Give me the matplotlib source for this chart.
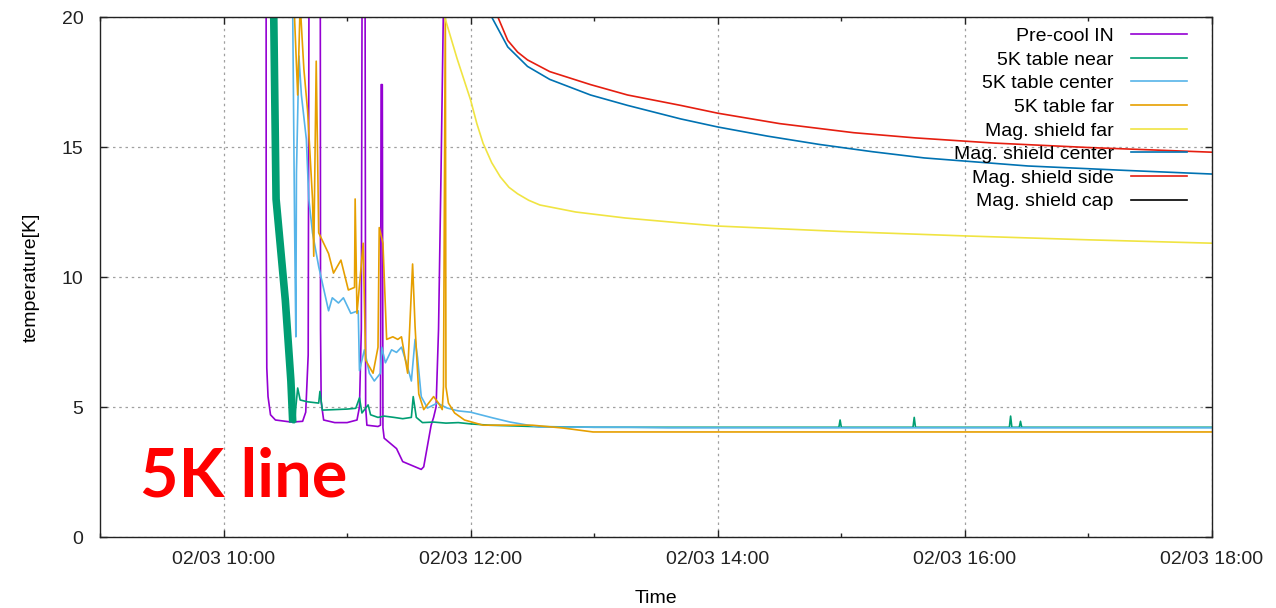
import numpy as np
import pandas as pd
import matplotlib
matplotlib.use("Agg")
import matplotlib.pyplot as plt
import matplotlib.dates as mdates

plt.rcParams['font.family'] = ['Liberation Sans', 'DejaVu Sans']

# === time axis: hours after 02/03 00:00 ===
day0 = pd.Timestamp("2019-02-03")

# === Pre-cool IN ===
h_precool = [10.30, 10.343, 10.345, 10.35, 10.36, 10.38, 10.42, 10.55, 10.64, 10.665, 10.685, 10.70,
             10.78, 10.785, 10.79, 10.81, 10.90, 11.00, 11.08, 11.10, 11.115, 11.13, 11.14, 11.15,
             11.16, 11.25, 11.27, 11.275, 11.285, 11.29, 11.30, 11.35, 11.40, 11.43, 11.45, 11.50,
             11.55, 11.60, 11.62, 11.65, 11.68, 11.70, 11.72, 11.74, 11.76, 11.78, 11.80, 18.0]
T_precool = [60, 60, 12, 6.5, 5.4, 4.7, 4.5, 4.42, 4.45, 4.8, 7, 40,
             40, 8, 5.2, 4.5, 4.4, 4.4, 4.5, 5, 8, 40, 40, 5,
             4.3, 4.25, 4.3, 17.4, 17.4, 4.2, 3.8, 3.6, 3.4, 3.1, 2.9, 2.8,
             2.7, 2.6, 2.7, 3.5, 4.3, 4.6, 5, 8, 14, 20.5, 40, 40]

# === 5K table near ===
h_near = [10.30, 10.395, 10.405, 10.425, 10.50, 10.545, 10.56, 10.575, 10.585, 10.60, 10.62, 10.68,
          10.77, 10.78, 10.80, 10.90, 11.00, 11.07, 11.10, 11.12, 11.17, 11.19, 11.25, 11.30,
          11.38, 11.45, 11.52, 11.535, 11.56, 11.61, 11.70, 11.80, 11.90, 12.00, 12.15, 12.30,
          12.50, 13.00, 14.00, 14.98, 14.99, 15.00, 15.58, 15.59, 15.60, 16.36, 16.37, 16.38,
          16.44, 16.45, 16.46, 18.0]
T_near = [40, 40, 20.5, 13, 9.1, 6.0, 4.4, 4.4, 5.0, 5.73, 5.27, 5.2,
          5.15, 5.6, 4.88, 4.9, 4.92, 4.95, 5.35, 4.77, 5.08, 4.7, 4.6, 4.65,
          4.6, 4.55, 4.6, 5.4, 4.6, 4.4, 4.42, 4.38, 4.4, 4.35, 4.3, 4.28,
          4.25, 4.22, 4.22, 4.22, 4.5, 4.22, 4.22, 4.6, 4.22, 4.22, 4.65, 4.22,
          4.22, 4.45, 4.22, 4.22]
near_fast_end = 10.57  # noisy fast-cooling part drawn as a thick band

# === 5K table center ===
h_center = [10.30, 10.55, 10.56, 10.575, 10.585, 10.59, 10.61, 10.63, 10.67, 10.69, 10.72, 10.77,
            10.85, 10.88, 10.93, 10.97, 11.03, 11.09, 11.10, 11.14, 11.18, 11.22, 11.27, 11.28,
            11.31, 11.36, 11.40, 11.44, 11.48, 11.52, 11.55, 11.57, 11.60, 11.65, 11.73, 11.81,
            11.90, 12.00, 12.18, 12.32, 12.55, 13.30, 13.60, 18.0]
T_center = [40, 40, 20, 12, 7.7, 14, 18.5, 17, 15.3, 13, 11.7, 10.4,
            8.7, 9.2, 9.0, 9.2, 8.6, 8.7, 6.4, 7.2, 6.3, 6.0, 6.3, 7.3,
            6.7, 7.2, 7.1, 7.3, 6.7, 6.0, 7.6, 6.9, 5.4, 4.96, 5.15, 4.96,
            4.85, 4.8, 4.58, 4.42, 4.23, 4.22, 4.2, 4.2]

# === 5K table far ===
h_far = [10.30, 10.56, 10.57, 10.60, 10.62, 10.65, 10.68, 10.72, 10.73, 10.75, 10.77, 10.85,
         10.89, 10.95, 11.01, 11.06, 11.065, 11.08, 11.13, 11.15, 11.21, 11.25, 11.26, 11.29,
         11.32, 11.37, 11.41, 11.44, 11.49, 11.53, 11.55, 11.58, 11.62, 11.70, 11.74, 11.77,
         11.78, 11.795, 11.80, 11.82, 11.87, 11.95, 12.10, 12.50, 12.75, 12.99, 18.0]
T_far = [40, 40, 20.5, 17, 20.5, 18, 16.4, 13, 10.8, 18.3, 11.7, 10.9,
         10.15, 10.65, 9.5, 9.6, 13, 8.6, 11.3, 6.8, 6.3, 7.3, 11.9, 11.3,
         7.6, 7.7, 7.6, 7.7, 6.3, 10.5, 8.1, 5.5, 4.9, 5.4, 5.15, 4.9,
         5.8, 20.5, 5.77, 5.15, 4.77, 4.5, 4.3, 4.3, 4.19, 4.04, 4.04]

# === Mag. shield far ===
h_mfar = [11.777, 11.89, 12.00, 12.05, 12.10, 12.17, 12.24, 12.31, 12.38, 12.47, 12.56, 12.85,
          13.25, 13.70, 14.00, 15.00, 16.00, 17.00, 18.0]
T_mfar = [20.2, 18.4, 16.8, 15.9, 15.15, 14.4, 13.85, 13.45, 13.2, 12.95, 12.77, 12.5,
          12.27, 12.08, 11.96, 11.75, 11.58, 11.43, 11.3]

# === Mag. shield center ===
h_mcenter = [12.05, 12.17, 12.30, 12.46, 12.64, 12.97, 13.27, 13.70, 14.00, 14.40, 14.82, 15.25,
             15.67, 16.51, 17.30, 18.0]
T_mcenter = [24, 20.0, 18.85, 18.1, 17.6, 17.0, 16.6, 16.08, 15.77, 15.42, 15.1, 14.82,
             14.58, 14.27, 14.1, 13.96]

# === Mag. shield side ===
h_mside = [12.10, 12.22, 12.30, 12.38, 12.46, 12.64, 12.97, 13.27, 13.70, 14.00, 14.50, 15.10,
           15.60, 16.24, 17.00, 18.0]
T_mside = [24, 20.0, 19.1, 18.65, 18.35, 17.9, 17.4, 17.0, 16.6, 16.3, 15.9, 15.55,
           15.35, 15.15, 14.98, 14.8]

# === Mag. shield cap (stays above the plotted range) ===
h_mcap = [9.0, 18.0]
T_mcap = [45, 45]

series = [
    ("Pre-cool IN", h_precool, T_precool, "#9400d3"),
    ("5K table near", h_near, T_near, "#009e73"),
    ("5K table center", h_center, T_center, "#56b4e9"),
    ("5K table far", h_far, T_far, "#e69f00"),
    ("Mag. shield far", h_mfar, T_mfar, "#f0e442"),
    ("Mag. shield center", h_mcenter, T_mcenter, "#0072b2"),
    ("Mag. shield side", h_mside, T_mside, "#e51e10"),
    ("Mag. shield cap", h_mcap, T_mcap, "#000000"),
]


def to_time(hours):
    return day0 + pd.to_timedelta(np.asarray(hours, dtype=float), unit="h")


fig = plt.figure(figsize=(12.76, 6.08), dpi=100)
ax = fig.add_axes([100 / 1276, 1 - 537 / 608, 1112 / 1276, 520 / 608])

for name, h, T, col in series:
    h = np.asarray(h)
    T = np.asarray(T)
    ax.plot(to_time(h), T, color=col, lw=1.2, label=name)
    if name == "5K table near":
        fast = h <= near_fast_end
        ax.plot(to_time(h[fast]), T[fast], color=col, lw=5.5, solid_capstyle="butt")

ax.set_xlim(to_time([9.0])[0], to_time([18.0])[0])
ax.set_ylim(0, 20)
ax.set_yticks([0, 5, 10, 15, 20])

ax.xaxis.set_major_locator(mdates.HourLocator(byhour=range(0, 24, 2)))
ax.xaxis.set_minor_locator(mdates.HourLocator(byhour=range(1, 24, 2)))
ax.xaxis.set_major_formatter(mdates.DateFormatter("%m/%d %H:%M"))

ax.tick_params(which="both", direction="in", top=True, right=True, labelsize=14,
               colors="#222222", width=1)
ax.tick_params(which="major", length=5)
ax.tick_params(which="minor", length=3)
ax.tick_params(axis="x", which="major", pad=10)
ax.tick_params(axis="y", which="major", pad=12)

ax.grid(which="major", color="#a0a0a0", linestyle=(0, (2, 3)), lw=0.9)
for s in ax.spines.values():
    s.set_color("#222222")
    s.set_linewidth(1.0)

ax.set_xlabel("Time", fontsize=14, labelpad=16)
ax.set_ylabel("temperature[K]", fontsize=14, labelpad=16)

leg = ax.legend(loc="upper right", bbox_to_anchor=(0.9775, 0.98), markerfirst=False,
                frameon=False, fontsize=14, handlelength=2.9, handletextpad=0.87,
                labelspacing=0.31, borderpad=0, borderaxespad=0)

ax.text(0.036, 0.077, "5K line", transform=ax.transAxes, color="#ff0000",
        fontsize=48, fontweight="bold", family=["Lato", "DejaVu Sans"], va="baseline")

fig.savefig("out.png", dpi=100)
